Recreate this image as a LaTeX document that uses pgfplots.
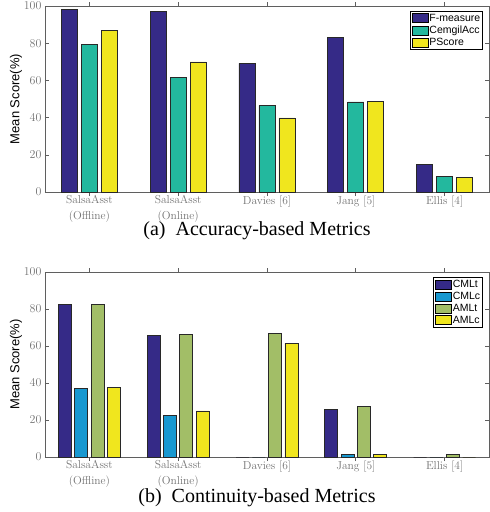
\documentclass[border=0pt]{standalone}
\usepackage{fontspec}
\usepackage{pgfplots}
\usepackage{pgfplotstable}
\pgfplotsset{compat=1.18}

\newfontfamily\arialfont{Liberation Sans}
\newfontfamily\timesfont{Liberation Serif}

\definecolor{pnavy}{RGB}{53,42,135}
\definecolor{pteal}{RGB}{35,184,158}
\definecolor{pyellow}{RGB}{240,230,30}
\definecolor{pblue}{RGB}{24,152,208}
\definecolor{pgreen}{RGB}{162,190,103}
\definecolor{tickgray}{RGB}{115,115,115}
\definecolor{axisgray}{RGB}{95,95,95}
\definecolor{edgegray}{RGB}{40,40,40}

% Accuracy-based metrics (mean score, %)
\pgfplotstableread{
cat  Fmeasure  CemgilAcc  PScore
1    98.2      79.2       86.9
2    97.0      61.8       69.9
3    69.2      46.6       39.8
4    83.2      48.4       48.7
5    14.7      8.6        7.7
}\accuracy

% Continuity-based metrics (mean score, %)
\pgfplotstableread{
cat  CMLt  CMLc  AMLt  AMLc
1    82.4  37.1  82.4  37.4
2    65.8  22.4  66.2  24.9
3    0     0     66.7  61.5
4    25.9  1.3   27.3  1.4
5    0     0     1.3   0
}\continuity

\pgfplotsset{
  patchlegend/.style={
    legend image code/.code={\draw[##1, line width=0.6pt, draw=black] (0pt,-4.5pt) rectangle (16pt,4.5pt);}},
  metricaxis/.style={
    scale only axis,
    width=444pt,
    ymin=0, ymax=100, ytick={0,20,...,100},
    xmin=0.5, xmax=5.5, xtick={1,...,5},
    xticklabels={{SalsaAsst\\[2.5pt](Offline)},{SalsaAsst\\[2.5pt](Online)},{Davies [6]},{Jang [5]},{Ellis [4]}},
    xticklabel style={align=center, font=\fontsize{11.5}{13}\selectfont, text=tickgray,
      anchor=north, yshift=4pt},
    yticklabel style={font=\fontsize{11.5}{13}\selectfont, text=tickgray},
    tick align=inside, major tick length=4pt,
    xtick pos=both, ytick pos=both,
    axis line style={axisgray, line width=0.7pt},
    tick style={axisgray, line width=0.6pt},
    ylabel={Mean Score(\%)},
    every axis y label/.style={at={(axis description cs:-0.0653,0.5)}, rotate=90, anchor=center,
      font=\arialfont\fontsize{13}{15}\selectfont},
    every axis plot/.append style={draw=edgegray, line width=0.7pt},
    every axis plot post/.append style={patchlegend},
    legend cell align=left,
    legend style={at={(0.9865,0.973)}, anchor=north east, draw=black, line width=0.6pt,
      font=\arialfont\fontsize{10.5}{12.5}\selectfont, inner xsep=1.5pt, inner ysep=1pt,
      row sep=0pt, nodes={inner xsep=1pt, inner ysep=1.6pt}},
  },
}

\begin{document}
\begin{tikzpicture}
\useasboundingbox (0,0) rectangle (490pt,-512pt);

\begin{axis}[metricaxis, height=186pt, at={(45pt,-192pt)}, anchor=south west,
  ybar=4pt, bar width=16pt]
  \addplot[fill=pnavy]   table[x=cat, y=Fmeasure]  {\accuracy};
  \addplot[fill=pteal]   table[x=cat, y=CemgilAcc] {\accuracy};
  \addplot[fill=pyellow] table[x=cat, y=PScore]    {\accuracy};
  \legend{F-measure, CemgilAcc, PScore}
\end{axis}
\node[font=\timesfont\fontsize{20}{24}\selectfont] at (257pt,-231pt) {(a)\ \ Accuracy-based Metrics};

\begin{axis}[metricaxis, height=185pt, at={(45pt,-457pt)}, anchor=south west,
  ybar=3.3pt, bar width=13pt]
  \addplot[fill=pnavy]   table[x=cat, y=CMLt] {\continuity};
  \addplot[fill=pblue]   table[x=cat, y=CMLc] {\continuity};
  \addplot[fill=pgreen]  table[x=cat, y=AMLt] {\continuity};
  \addplot[fill=pyellow] table[x=cat, y=AMLc] {\continuity};
  \legend{CMLt, CMLc, AMLt, AMLc}
\end{axis}
\node[font=\timesfont\fontsize{20}{24}\selectfont] at (257pt,-498pt) {(b)\ \ Continuity-based Metrics};
\end{tikzpicture}
\end{document}
